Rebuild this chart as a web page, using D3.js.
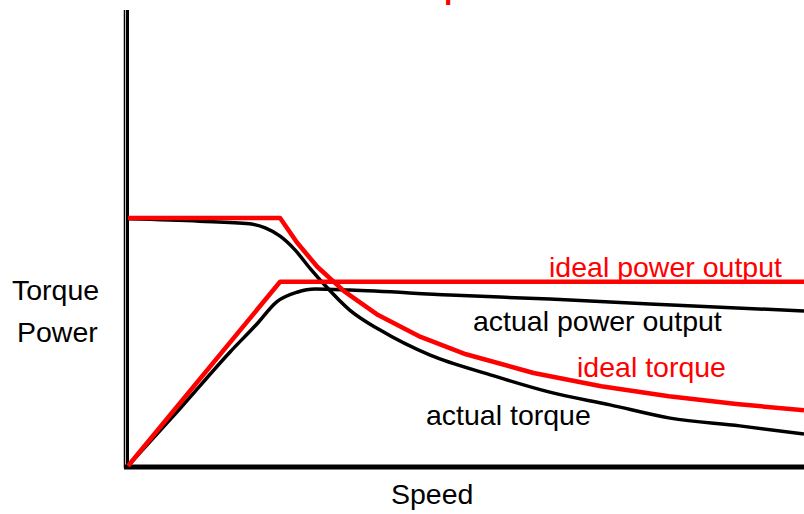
<!DOCTYPE html>
<html>
<head>
<meta charset="utf-8">
<script src="https://cdn.jsdelivr.net/npm/d3@7"></script>
<style>
  body { margin: 0; background: #fff; }
  text { font-family: "Liberation Sans", Arial, sans-serif; }
</style>
</head>
<body>
<div id="chart"></div>
<script>
// values (speed 0..100, torque/power 0..100)
var idealTorqueSpeed = [0, 22.5, 25, 28, 32, 37, 43, 50, 60, 70, 80, 90, 100];
var idealTorque      = [54.4, 54.4, 49, 43.7, 38.3, 33.1, 28.5, 24.5, 20.4, 17.5, 15.3, 13.6, 12.2];

var idealPowerSpeed = [0, 22.5, 100];
var idealPower      = [0, 40.4, 40.4];

var actualTorqueSpeed = [0, 10.6, 18, 20.3, 22.5, 24.7, 26.9, 29.1, 32.8, 37.3, 44.7, 53.6, 62.4, 71.3, 80.2, 90.5, 100];
var actualTorque      = [54.2, 53.7, 53.1, 52.2, 50.4, 47.4, 43.4, 39.7, 34.2, 29.8, 24.3, 20.0, 16.2, 13.4, 10.5, 8.8, 7.0];

var actualPowerSpeed = [0, 7.7, 15.1, 19.1, 22, 25, 27.7, 32.8, 47.6, 62.4, 77.2, 100];
var actualPower      = [0, 12.6, 25.0, 31.2, 36.0, 38.1, 38.8, 38.6, 37.5, 36.6, 35.5, 34.0];

var width = 804, height = 514;

var svg = d3.select("#chart")
  .append("svg")
    .attr("width", width)
    .attr("height", height);

var x = d3.scaleLinear().domain([0, 100]).range([128, 804]);
var y = d3.scaleLinear().domain([0, 100]).range([466, 10]);

function pts(sx, sy) {
  return sx.map(function(s, i) { return [s, sy[i]]; });
}

// title, only the descender shows at the top edge
svg.append("text")
  .attr("x", 444)
  .attr("y", -1)
  .style("font-size", "30px")
  .style("font-weight", "bold")
  .style("fill", "#ff0000")
  .text("power");

// axes: double vertical line, heavy baseline
svg.append("line")
  .attr("x1", 124.5).attr("x2", 124.5)
  .attr("y1", y(100)).attr("y2", 468)
  .style("stroke", "#000").style("stroke-width", 1.5);
svg.append("line")
  .attr("x1", 127.5).attr("x2", 127.5)
  .attr("y1", y(100)).attr("y2", 468)
  .style("stroke", "#000").style("stroke-width", 3);
svg.append("line")
  .attr("x1", 124).attr("x2", x(100))
  .attr("y1", y(0) + 1).attr("y2", y(0) + 1)
  .style("stroke", "#000").style("stroke-width", 5);

var straight = d3.line()
  .x(function(d) { return x(d[0]); })
  .y(function(d) { return y(d[1]); });

var smooth = d3.line()
  .curve(d3.curveMonotoneX)
  .x(function(d) { return x(d[0]); })
  .y(function(d) { return y(d[1]); });

// actual curves (black)
svg.append("path")
  .attr("d", smooth(pts(actualTorqueSpeed, actualTorque)))
  .style("fill", "none").style("stroke", "#000").style("stroke-width", 3.5);
svg.append("path")
  .attr("d", smooth(pts(actualPowerSpeed, actualPower)))
  .style("fill", "none").style("stroke", "#000").style("stroke-width", 3.5);

// ideal curves (red)
svg.append("path")
  .attr("d", straight(pts(idealTorqueSpeed, idealTorque)))
  .style("fill", "none").style("stroke", "#ff0000").style("stroke-width", 4.5)
  .style("stroke-linejoin", "round");
svg.append("path")
  .attr("d", straight(pts(idealPowerSpeed, idealPower)))
  .style("fill", "none").style("stroke", "#ff0000").style("stroke-width", 4.5)
  .style("stroke-linejoin", "round");

// labels
var labels = [
  {t: "ideal power output", x: 549, y: 277, c: "#ff0000"},
  {t: "actual power output", x: 473, y: 331, c: "#000"},
  {t: "ideal torque", x: 577, y: 377, c: "#ff0000"},
  {t: "actual torque", x: 426, y: 425, c: "#000"},
  {t: "Torque", x: 12, y: 300, c: "#000"},
  {t: "Power", x: 17, y: 342, c: "#000"},
  {t: "Speed", x: 391, y: 504, c: "#000"}
];
svg.selectAll(".lbl")
  .data(labels)
  .enter()
  .append("text")
    .attr("class", "lbl")
    .attr("x", function(d) { return d.x; })
    .attr("y", function(d) { return d.y; })
    .style("font-size", "28.5px")
    .style("fill", function(d) { return d.c; })
    .text(function(d) { return d.t; });
</script>
</body>
</html>
